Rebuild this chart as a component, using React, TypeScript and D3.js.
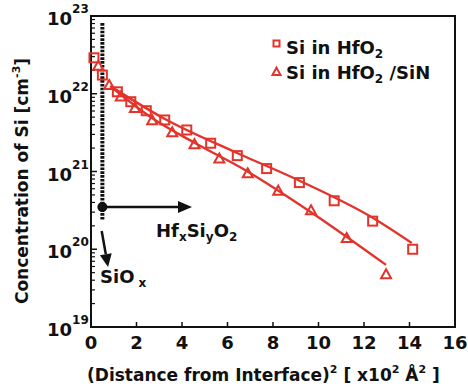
import React from 'react';
import * as d3 from 'd3';

// Si depth profiles: x = (distance from interface)^2 [x10^2 Å^2], y = concentration [cm^-3]
const hfo2X = [0.13, 0.5, 1.16, 1.75, 2.43, 3.24, 4.21, 5.26, 6.43, 7.72, 9.16, 10.69, 12.38, 14.14];
const hfo2Y = [2.9e22, 1.74e22, 1.06e22, 7.9e21, 6.05e21, 4.6e21, 3.42e21, 2.31e21, 1.6e21, 1.09e21, 7.2e20, 4.2e20, 2.3e20, 1.0e20];
const sinX = [0.32, 0.8, 1.31, 1.93, 2.69, 3.57, 4.55, 5.64, 6.89, 8.23, 9.67, 11.24, 12.97];
const sinY = [2.27e22, 1.28e22, 9.1e21, 6.5e21, 4.5e21, 3.15e21, 2.22e21, 1.45e21, 9.4e20, 5.6e20, 3.13e20, 1.38e20, 4.7e19];

// Fitted diffusion curves
const hfo2FitX = [0.97, 3.25, 6.42, 9.19, 12.4, 14.1];
const hfo2FitY = [1.19e22, 4.73e21, 1.73e21, 7.55e20, 2.52e20, 1.2e20];
const sinFitX = [0.84, 2.68, 4.57, 6.86, 9.67, 12.97];
const sinFitY = [1.26e22, 4.88e21, 2.33e21, 1.01e21, 3.0e20, 6.3e19];

const xTicks = [0, 2, 4, 6, 8, 10, 12, 14, 16];
const yDecades = [19, 20, 21, 22, 23];

// Interface marker and arrows (data coordinates)
const interfaceX = 0.5;
const interfaceTop = 8.1e22;
const interfaceBottom = 2.4e20;
const dotY = 3.5e20;
const arrowRightEndX = 4.44;
const arrowDownStart = [0.47, 1.72e20];
const arrowDownEnd = [0.75, 5.9e19];

const RED = '#e3342b';
const FONT = "'DejaVu Sans', sans-serif";

export default function App() {
  const W = 468;
  const H = 389;
  const x = d3.scaleLinear().domain([0, 16]).range([91, 455]);
  const y = d3.scaleLog().domain([1e19, 1e23]).range([327, 16]);

  const line = d3
    .line<[number, number]>()
    .x((d) => x(d[0]))
    .y((d) => y(d[1]))
    .curve(d3.curveMonotoneX);

  const hfo2Fit = hfo2FitX.map((v, i) => [v, hfo2FitY[i]] as [number, number]);
  const sinFit = sinFitX.map((v, i) => [v, sinFitY[i]] as [number, number]);

  const minorTicks: number[] = [];
  for (let e = 19; e < 23; e++) {
    for (let m = 2; m <= 9; m++) minorTicks.push(m * Math.pow(10, e));
  }

  const tri = (cx: number, cy: number, s: number) => {
    const h = s * 0.9;
    return `M${cx},${cy - h * 0.6}L${cx + s / 2},${cy + h * 0.4}L${cx - s / 2},${cy + h * 0.4}Z`;
  };

  // right-arrow geometry
  const ax0 = x(interfaceX);
  const ay = y(dotY);
  const ax1 = x(arrowRightEndX);
  // down-arrow geometry
  const dx0 = x(arrowDownStart[0]);
  const dy0 = y(arrowDownStart[1]);
  const dx1 = x(arrowDownEnd[0]);
  const dy1 = y(arrowDownEnd[1]);
  const ang = Math.atan2(dy1 - dy0, dx1 - dx0);
  const headLen = 13;
  const headW = 6;
  const bx = dx1 - headLen * Math.cos(ang);
  const by = dy1 - headLen * Math.sin(ang);
  const px = -Math.sin(ang) * headW;
  const py = Math.cos(ang) * headW;

  return (
    <svg
      width={W}
      height={H}
      style={{ position: 'absolute', left: 0, top: 0, background: '#fff' }}
      fontFamily={FONT}
      fontWeight="bold"
    >
      {/* frame */}
      <rect x={91} y={16} width={364} height={311} fill="none" stroke="#111" strokeWidth={2} />

      {/* x ticks */}
      {xTicks.map((t) => (
        <g key={'xt' + t}>
          <line x1={x(t)} x2={x(t)} y1={327} y2={322} stroke="#111" strokeWidth={1.5} />
          <text x={x(t)} y={349} textAnchor="middle" fontSize={18} fill="#111">
            {t}
          </text>
        </g>
      ))}

      {/* y ticks */}
      {minorTicks.map((t, i) => (
        <line key={'ym' + i} x1={91} x2={95} y1={y(t)} y2={y(t)} stroke="#111" strokeWidth={1.2} />
      ))}
      {yDecades.map((e) => (
        <g key={'yd' + e}>
          <line x1={91} x2={97} y1={y(Math.pow(10, e))} y2={y(Math.pow(10, e))} stroke="#111" strokeWidth={1.5} />
          <text x={47} y={y(Math.pow(10, e)) + 9} fontSize={18} fill="#111">
            10
            <tspan dy={-12} fontSize={12}>
              {e}
            </tspan>
          </text>
        </g>
      ))}

      {/* interface line */}
      <line
        x1={x(interfaceX)}
        x2={x(interfaceX)}
        y1={y(interfaceTop)}
        y2={y(interfaceBottom)}
        stroke="#111"
        strokeWidth={4}
        strokeDasharray="2.6,1.2"
      />

      {/* fitted curves */}
      <path d={line(hfo2Fit) || ''} fill="none" stroke={RED} strokeWidth={2.4} />
      <path d={line(sinFit) || ''} fill="none" stroke={RED} strokeWidth={2.4} />

      {/* markers */}
      {hfo2X.map((v, i) => (
        <rect
          key={'sq' + i}
          x={x(v) - 4.5}
          y={y(hfo2Y[i]) - 4.5}
          width={9}
          height={9}
          fill="none"
          stroke={RED}
          strokeWidth={2}
        />
      ))}
      {sinX.map((v, i) => (
        <path key={'tr' + i} d={tri(x(v), y(sinY[i]), 10)} fill="none" stroke={RED} strokeWidth={2} />
      ))}

      {/* dot and right arrow */}
      <circle cx={ax0} cy={ay} r={5} fill="#111" />
      <line x1={ax0} x2={ax1 - 13} y1={ay} y2={ay} stroke="#111" strokeWidth={2.5} />
      <path d={`M${ax1},${ay}L${ax1 - 14},${ay - 6}L${ax1 - 14},${ay + 6}Z`} fill="#111" />

      {/* down arrow */}
      <line x1={dx0} y1={dy0} x2={bx} y2={by} stroke="#111" strokeWidth={2.5} />
      <path d={`M${dx1},${dy1}L${bx + px},${by + py}L${bx - px},${by - py}Z`} fill="#111" />

      {/* region labels */}
      <text x={156} y={237} fontSize={18} fill="#111">
        Hf
        <tspan dy={4} fontSize={12}>x</tspan>
        <tspan dy={-4}>Si</tspan>
        <tspan dy={4} fontSize={12}>y</tspan>
        <tspan dy={-4}>O</tspan>
        <tspan dy={4} fontSize={12}>2</tspan>
      </text>
      <text x={100} y={283} fontSize={18} fill="#111">
        SiO
        <tspan dx={4} dy={4} fontSize={12}>x</tspan>
      </text>

      {/* legend */}
      <rect x={273.5} y={40.5} width={6} height={6} fill="none" stroke={RED} strokeWidth={2} />
      <text x={286} y={54} fontSize={18} fill="#111">
        Si in HfO
        <tspan dy={4} fontSize={12}>2</tspan>
      </text>
      <path d={tri(276.5, 72, 8)} fill="none" stroke={RED} strokeWidth={2} />
      <text x={286} y={79} fontSize={18} fill="#111">
        Si in HfO
        <tspan dy={4} fontSize={12}>2</tspan>
        <tspan dy={-4}> /SiN</tspan>
      </text>

      {/* axis titles */}
      <text x={87} y={381} fontSize={17} fill="#111">
        (Distance from Interface)
        <tspan dy={-8} fontSize={11}>2</tspan>
        <tspan dy={8}> [ x10</tspan>
        <tspan dy={-8} fontSize={11}>2</tspan>
        <tspan dy={8}> Å</tspan>
        <tspan dy={-8} fontSize={11}>2</tspan>
        <tspan dy={8}> ]</tspan>
      </text>
      <text
        transform="translate(28,181) rotate(-90)"
        textAnchor="middle"
        fontSize={17}
        fill="#111"
      >
        Concentration of Si [cm
        <tspan dy={-8} fontSize={11}>-3</tspan>
        <tspan dy={8}>]</tspan>
      </text>
    </svg>
  );
}
